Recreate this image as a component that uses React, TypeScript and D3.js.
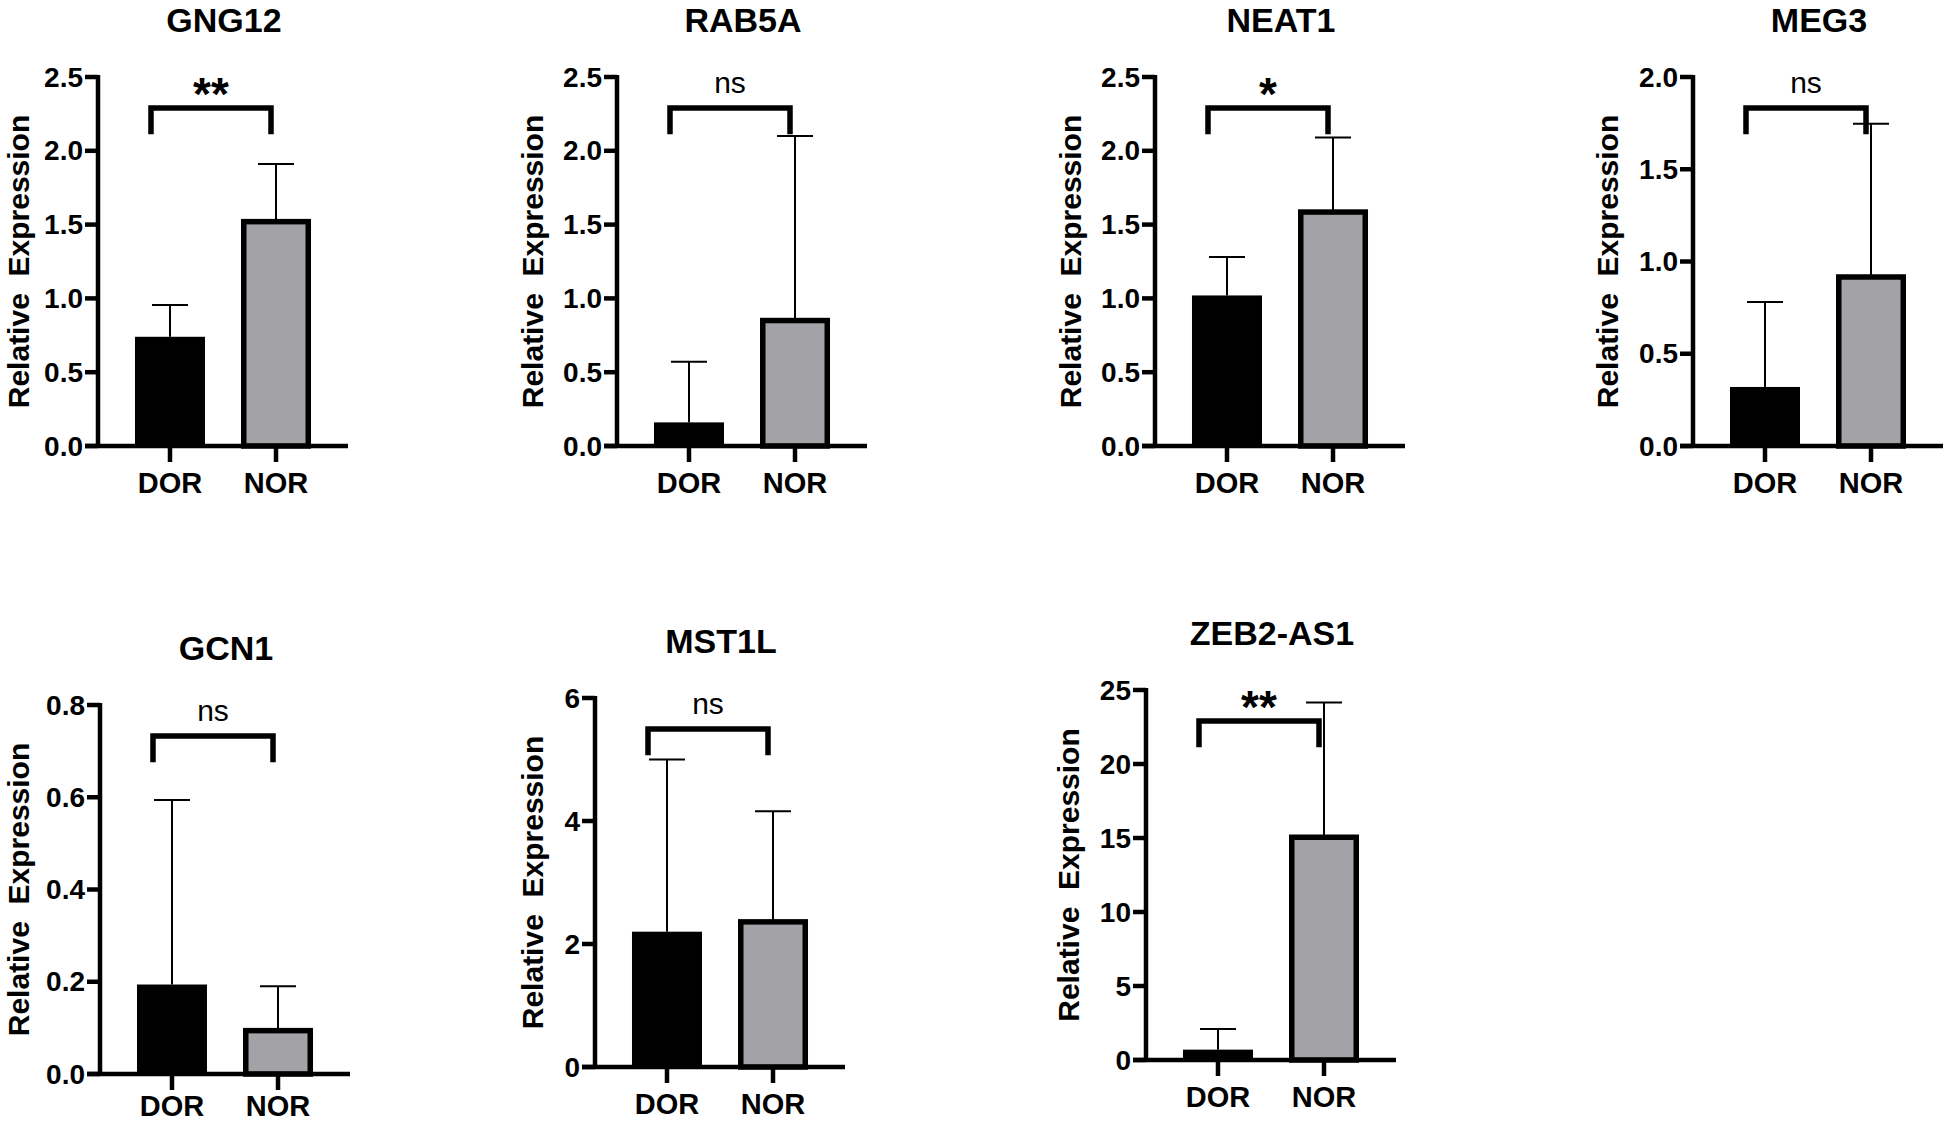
import React from "react";
import * as d3 from "d3";

// ---------- data ----------
const genes = ["GNG12", "RAB5A", "NEAT1", "MEG3", "GCN1", "MST1L", "ZEB2-AS1"];
const groups = ["DOR", "NOR"];
const dorMean = [0.74, 0.16, 1.02, 0.32, 0.194, 2.2, 0.7];
const dorSD = [0.215, 0.41, 0.26, 0.46, 0.4, 2.8, 1.4];
const norMean = [1.52, 0.85, 1.585, 0.916, 0.094, 2.36, 15.05];
const norSD = [0.39, 1.25, 0.505, 0.83, 0.096, 1.8, 9.1];
const sigLabels = ["**", "ns", "*", "ns", "ns", "ns", "**"];
const yMax = [2.5, 2.5, 2.5, 2.0, 0.8, 6, 25];
const yStep = [0.5, 0.5, 0.5, 0.5, 0.2, 2, 5];
const tickDecimals = [1, 1, 1, 1, 1, 0, 0];
const yTitle = "Relative  Expression";

// ---------- layout ----------
const axisX = [98, 617, 1155, 1693, 100, 595, 1146];
const axisTop = [77, 77, 77, 77, 705, 698, 690];
const axisZero = [446, 446, 446, 446, 1074, 1067, 1060];
const yTitleOffset = [80, 85, 85, 86, 82, 63, 78];
const X_LEN = 250;
const H = 1123;

const FONT = "'Liberation Sans', Arial, Helvetica, sans-serif";
const GRAY = "#a3a2a7";

function Panel({ i }: { i: number }) {
  const x0 = axisX[i];
  const top = axisTop[i];
  const zero = axisZero[i];
  const y = d3.scaleLinear().domain([0, yMax[i]]).range([zero, top]);
  const x = d3.scalePoint<string>().domain(groups).range([x0, x0 + X_LEN]).padding(0.679);
  const ticks = d3.range(0, yMax[i] + yStep[i] / 2, yStep[i]);
  const fmt = d3.format(`.${tickDecimals[i]}f`);
  const means = [dorMean[i], norMean[i]];
  const sds = [dorSD[i], norSD[i]];
  const barW = 70;
  const sw = 5.5;
  const capW = 36;
  const cx0 = x("DOR")!;
  const cx1 = x("NOR")!;
  const brL = cx0 - 19;
  const brR = cx1 - 5;
  const brTop = y(yMax[i] * 0.916);
  const brBot = y(yMax[i] * 0.845);
  const isStar = sigLabels[i].includes("*");
  const titleX = x0 + 126;
  const catY = Math.min(zero + 47, H - 7);

  return (
    <g>
      {/* title */}
      <text x={titleX} y={top - 45} textAnchor="middle" fontFamily={FONT} fontWeight="bold" fontSize={34}>
        {genes[i]}
      </text>
      {/* y title */}
      <text
        transform={`translate(${x0 - yTitleOffset[i]},${(top + zero) / 2}) rotate(-90)`}
        textAnchor="middle"
        dominantBaseline="central"
        fontFamily={FONT}
        fontWeight="bold"
        fontSize={30}
        style={{ whiteSpace: "pre" }}
      >
        {yTitle}
      </text>
      {/* error bars */}
      {groups.map((g, k) => {
        const cx = x(g)!;
        return (
          <g key={"e" + g}>
            <line x1={cx} x2={cx} y1={y(means[k])} y2={y(means[k] + sds[k])} stroke="#000" strokeWidth={2} />
            <line x1={cx - capW / 2} x2={cx + capW / 2} y1={y(means[k] + sds[k])} y2={y(means[k] + sds[k])} stroke="#000" strokeWidth={2} />
          </g>
        );
      })}
      {/* bars */}
      <rect x={cx0 - barW / 2} y={y(means[0])} width={barW} height={zero - y(means[0])} fill="#000" />
      <rect
        x={cx1 - (barW - sw) / 2}
        y={y(means[1])}
        width={barW - sw}
        height={zero - y(means[1])}
        fill={GRAY}
        stroke="#000"
        strokeWidth={sw}
      />
      {/* y axis */}
      <line x1={x0} x2={x0} y1={top - 2} y2={zero + 2} stroke="#000" strokeWidth={4.5} />
      {ticks.map((t) => (
        <g key={"t" + t}>
          <line x1={x0 - 13} x2={x0} y1={y(t)} y2={y(t)} stroke="#000" strokeWidth={4.5} />
          <text
            x={x0 - 15}
            y={y(t)}
            textAnchor="end"
            dominantBaseline="central"
            fontFamily={FONT}
            fontWeight="bold"
            fontSize={28}
          >
            {fmt(t)}
          </text>
        </g>
      ))}
      {/* x axis */}
      <line x1={x0 - 13} x2={x0 + X_LEN} y1={zero} y2={zero} stroke="#000" strokeWidth={4.5} />
      {groups.map((g) => (
        <g key={"x" + g}>
          <line x1={x(g)!} x2={x(g)!} y1={zero} y2={zero + 16} stroke="#000" strokeWidth={4.5} />
          <text x={x(g)!} y={catY} textAnchor="middle" fontFamily={FONT} fontWeight="bold" fontSize={29}>
            {g}
          </text>
        </g>
      ))}
      {/* significance bracket */}
      <path
        d={`M${brL},${brBot} L${brL},${brTop} L${brR},${brTop} L${brR},${brBot}`}
        fill="none"
        stroke="#000"
        strokeWidth={5.5}
        strokeLinejoin="miter"
      />
      {isStar ? (
        <text x={(brL + brR) / 2} y={top + 33} textAnchor="middle" fontFamily={FONT} fontWeight="bold" fontSize={46}>
          {sigLabels[i]}
        </text>
      ) : (
        <text x={(brL + brR) / 2} y={top + 16} textAnchor="middle" fontFamily={FONT} fontSize={30}>
          {sigLabels[i]}
        </text>
      )}
    </g>
  );
}

export default function App() {
  return (
    <svg
      width={1944}
      height={H}
      style={{ position: "absolute", left: 0, top: 0, display: "block", background: "#fff" }}
    >
      <rect width={1944} height={H} fill="#fff" />
      {genes.map((_, i) => (
        <Panel key={genes[i]} i={i} />
      ))}
    </svg>
  );
}
